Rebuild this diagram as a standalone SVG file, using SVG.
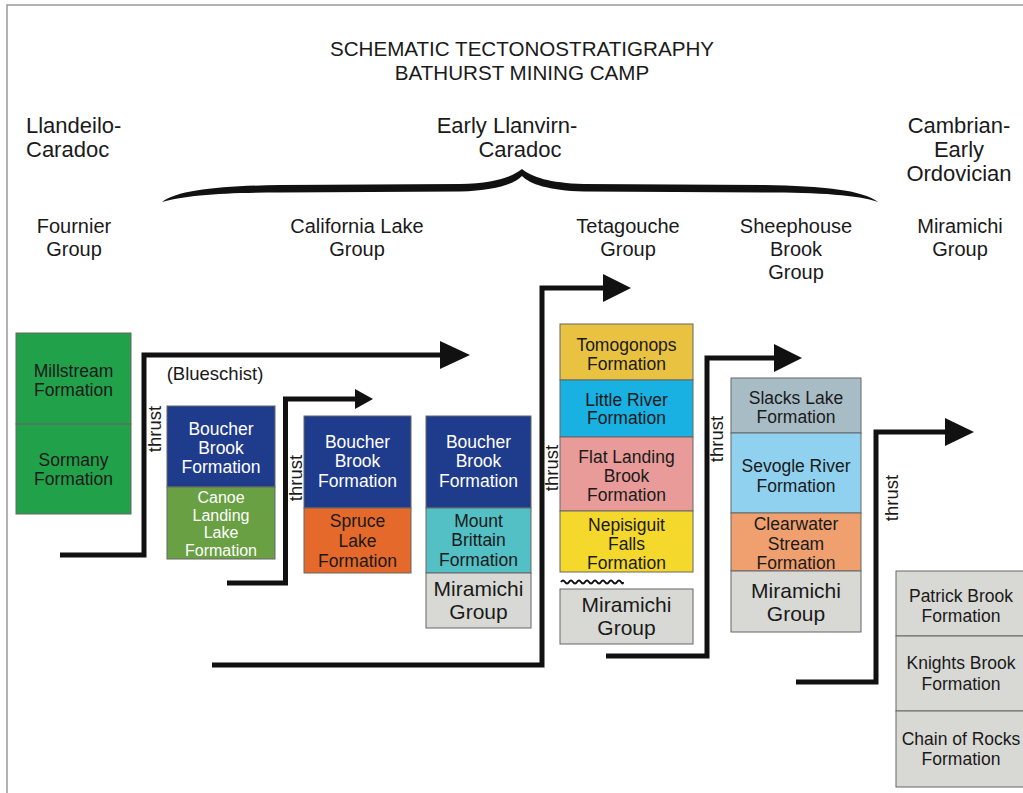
<svg xmlns="http://www.w3.org/2000/svg" width="1023" height="793" viewBox="0 0 1023 793">
<style>
text{font-family:"Liberation Sans",Arial,sans-serif;fill:#1a1a1a;text-anchor:middle}
.title{font-size:20.6px}
.head{font-size:22px}
.grp{font-size:20px}
.bt{font-size:17.5px}
.sm{font-size:16px}
.mir{font-size:21px}
.w{fill:#ffffff}
.box{stroke:#666;stroke-width:1}
.ln{fill:none;stroke:#111;stroke-width:5;stroke-linejoin:miter}
.ah{fill:#111}
.lbl{font-size:18.5px}
</style>
<rect x="0" y="0" width="1023" height="793" fill="#ffffff"/>
<polyline points="7,793 7,5 1023,5" fill="none" stroke="#9a9a9a" stroke-width="1.5"/>

<g id="title">
<text class="title" x="522" y="56">SCHEMATIC TECTONOSTRATIGRAPHY</text>
<text class="title" x="522" y="80">BATHURST MINING CAMP</text>
</g>

<g id="age-llandeilo">
<text class="head" x="26" y="133" style="text-anchor:start">Llandeilo-</text>
<text class="head" x="26" y="157" style="text-anchor:start">Caradoc</text>
</g>
<g id="age-early-llanvirn">
<text class="head" x="507" y="133">Early Llanvirn-</text>
<text class="head" x="520" y="157">Caradoc</text>
</g>
<g id="age-cambrian">
<text class="head" x="959" y="133">Cambrian-</text>
<text class="head" x="959" y="157">Early</text>
<text class="head" x="959" y="181">Ordovician</text>
</g>
<g id="brace">
<path d="M162,202 C178,190 220,186 280,185 L460,184 C495,183 512,177 522,169 C532,177 549,183 584,184 L764,185 C824,186 862,190 878,202 C858,195 820,192.5 764,192.5 L584,191.5 C548,190.5 530,184 522,176 C514,184 496,190.5 460,191.5 L280,192.5 C224,192.5 186,195 162,202 Z" fill="#111"/>
</g>

<g id="grp-fournier"><text class="grp" x="74" y="233">Fournier</text><text class="grp" x="74" y="256">Group</text></g>
<g id="grp-california"><text class="grp" x="357" y="233">California Lake</text><text class="grp" x="357" y="256">Group</text></g>
<g id="grp-tetagouche"><text class="grp" x="628" y="233">Tetagouche</text><text class="grp" x="628" y="256">Group</text></g>
<g id="grp-sheephouse"><text class="grp" x="796" y="233">Sheephouse</text><text class="grp" x="796" y="256">Brook</text><text class="grp" x="796" y="279">Group</text></g>
<g id="grp-miramichi"><text class="grp" x="960" y="233">Miramichi</text><text class="grp" x="960" y="256">Group</text></g>

<g id="connectors">
<path class="ln" d="M60,555 H144 V355 H445"/>
<polygon class="ah" points="440,341 470,355 440,369"/>
<path class="ln" d="M227,583 H285.5 V399 H358"/>
<polygon class="ah" points="355,389 373,399 355,409"/>
<path class="ln" d="M212,665 H542 V288 H606"/>
<polygon class="ah" points="603,274 631,288 603,302"/>
<path class="ln" d="M606,656 H707 V358 H777"/>
<polygon class="ah" points="774,344 802,358 774,372"/>
<path class="ln" d="M796,682 H876 V432 H948"/>
<polygon class="ah" points="945,418 974,432 945,446"/>
<path d="M561,582 q2,-3 4,0 t4,0 t4,0 t4,0 t4,0 t4,0 t4,0 t4,0 t4,0 t4,0 t4,0 t4,0 t4,0 t4,0 t4,0 t2,0" fill="none" stroke="#111" stroke-width="2"/>
<text class="lbl" transform="translate(161,429) rotate(-90)">thrust</text>
<text class="lbl" transform="translate(302,478) rotate(-90)">thrust</text>
<text class="lbl" transform="translate(558,468) rotate(-90)">thrust</text>
<text class="lbl" transform="translate(723,439) rotate(-90)">thrust</text>
<text class="lbl" transform="translate(898,498) rotate(-90)">thrust</text>
<text class="lbl" x="215" y="380">(Blueschist)</text>
</g>

<g id="millstream"><rect class="box" x="16" y="333" width="115" height="91" fill="#22a14b"/><text class="bt" x="73.5" y="377">Millstream</text><text class="bt" x="73.5" y="396">Formation</text></g>
<g id="sormany"><rect class="box" x="16" y="424" width="115" height="90" fill="#22a14b"/><text class="bt" x="73.5" y="466">Sormany</text><text class="bt" x="73.5" y="485">Formation</text></g>

<g id="boucher1"><rect class="box" x="167" y="406" width="108" height="81" fill="#1f3c8c"/><text class="bt w" x="221" y="435">Boucher</text><text class="bt w" x="221" y="454">Brook</text><text class="bt w" x="221" y="473">Formation</text></g>
<g id="canoe"><rect class="box" x="167" y="487" width="108" height="72" fill="#68a043"/><text class="sm w" x="221" y="503">Canoe</text><text class="sm w" x="221" y="520.5">Landing</text><text class="sm w" x="221" y="538">Lake</text><text class="sm w" x="221" y="555.5">Formation</text></g>

<g id="boucher2"><rect class="box" x="304" y="416" width="107" height="92" fill="#1f3c8c"/><text class="bt w" x="357.5" y="448">Boucher</text><text class="bt w" x="357.5" y="467">Brook</text><text class="bt w" x="357.5" y="487">Formation</text></g>
<g id="spruce"><rect class="box" x="304" y="508" width="107" height="65" fill="#e4692a"/><text class="bt" x="357.5" y="527">Spruce</text><text class="bt" x="357.5" y="547">Lake</text><text class="bt" x="357.5" y="567">Formation</text></g>

<g id="boucher3"><rect class="box" x="426" y="416" width="105" height="92" fill="#1f3c8c"/><text class="bt w" x="478.5" y="448">Boucher</text><text class="bt w" x="478.5" y="467">Brook</text><text class="bt w" x="478.5" y="487">Formation</text></g>
<g id="mount-brittain"><rect class="box" x="426" y="508" width="105" height="65" fill="#52c0c4"/><text class="bt" x="478.5" y="527">Mount</text><text class="bt" x="478.5" y="546">Brittain</text><text class="bt" x="478.5" y="566">Formation</text></g>
<g id="miramichi1"><rect class="box" x="426" y="573" width="105" height="55" fill="#d8d8d4"/><text class="mir" x="478.5" y="596">Miramichi</text><text class="mir" x="478.5" y="619">Group</text></g>

<g id="tomogonops"><rect class="box" x="560" y="324" width="133" height="56" fill="#e8c240"/><text class="bt" x="626.5" y="351">Tomogonops</text><text class="bt" x="626.5" y="370">Formation</text></g>
<g id="little-river"><rect class="box" x="560" y="380" width="133" height="57" fill="#19b0e2"/><text class="bt" x="626.5" y="406">Little River</text><text class="bt" x="626.5" y="424">Formation</text></g>
<g id="flat-landing"><rect class="box" x="560" y="437" width="133" height="74" fill="#e89b98"/><text class="bt" x="626.5" y="463">Flat Landing</text><text class="bt" x="626.5" y="482">Brook</text><text class="bt" x="626.5" y="501">Formation</text></g>
<g id="nepisiguit"><rect class="box" x="560" y="511" width="133" height="61" fill="#f4d92c"/><text class="bt" x="626.5" y="531">Nepisiguit</text><text class="bt" x="626.5" y="549.5">Falls</text><text class="bt" x="626.5" y="569">Formation</text></g>
<g id="miramichi2"><rect class="box" x="560" y="589" width="133" height="55" fill="#d8d8d4"/><text class="mir" x="626.5" y="612">Miramichi</text><text class="mir" x="626.5" y="635">Group</text></g>

<g id="slacks"><rect class="box" x="731" y="378" width="130" height="55" fill="#a8bcc6"/><text class="bt" x="796" y="404">Slacks Lake</text><text class="bt" x="796" y="423">Formation</text></g>
<g id="sevogle"><rect class="box" x="731" y="433" width="130" height="80" fill="#8fd1ee"/><text class="bt" x="796" y="472">Sevogle River</text><text class="bt" x="796" y="492">Formation</text></g>
<g id="clearwater"><rect class="box" x="731" y="513" width="130" height="58" fill="#efa06e"/><text class="bt" x="796" y="530">Clearwater</text><text class="bt" x="796" y="550">Stream</text><text class="bt" x="796" y="569">Formation</text></g>
<g id="miramichi3"><rect class="box" x="731" y="571" width="130" height="61" fill="#d8d8d4"/><text class="mir" x="796" y="598">Miramichi</text><text class="mir" x="796" y="621">Group</text></g>

<g id="patrick"><rect class="box" x="896" y="571" width="134" height="65" fill="#d8d8d4"/><text class="bt" x="961" y="602">Patrick Brook</text><text class="bt" x="961" y="622">Formation</text></g>
<g id="knights"><rect class="box" x="896" y="636" width="134" height="75" fill="#d8d8d4"/><text class="bt" x="961" y="669">Knights Brook</text><text class="bt" x="961" y="690">Formation</text></g>
<g id="chain"><rect class="box" x="896" y="711" width="134" height="76" fill="#d8d8d4"/><text class="bt" x="961" y="745">Chain of Rocks</text><text class="bt" x="961" y="765">Formation</text></g>
</svg>
